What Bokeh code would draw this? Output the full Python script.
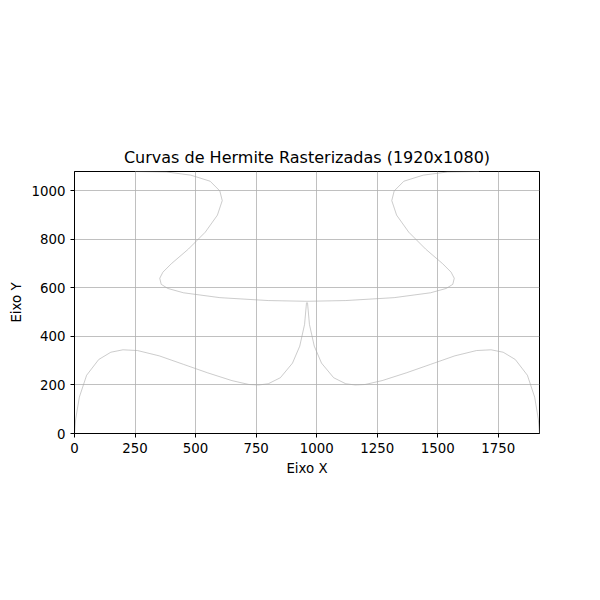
from bokeh.plotting import figure
from bokeh.models import FixedTicker, Range1d
from bokeh.embed import file_html
from bokeh.resources import INLINE

# upper curve (left half, then right half)
up_l_x = [250, 380, 480, 560, 600, 610, 590, 540, 470, 400, 365, 352, 358, 385, 450, 600, 800, 960]
up_l_y = [1080, 1078, 1065, 1040, 1000, 960, 900, 830, 760, 700, 665, 640, 615, 598, 580, 560, 548, 545]
up_r_x = [960, 1120, 1320, 1470, 1535, 1562, 1568, 1555, 1520, 1450, 1380, 1330, 1310, 1320, 1360, 1440, 1540, 1670]
up_r_y = [545, 548, 560, 580, 598, 615, 640, 665, 700, 760, 830, 900, 960, 1000, 1040, 1065, 1078, 1080]

# lower curve
lo_l_x = [0, 5, 20, 50, 100, 150, 200, 260, 350, 450, 550, 650, 720, 760, 800, 850, 900, 930, 950, 958]
lo_l_y = [0, 60, 150, 240, 305, 335, 345, 342, 320, 285, 250, 218, 202, 200, 205, 230, 290, 360, 450, 540]
lo_r_x = [962, 970, 990, 1020, 1070, 1120, 1160, 1200, 1270, 1370, 1470, 1570, 1660, 1720, 1770, 1820, 1870, 1900, 1915, 1920]
lo_r_y = [540, 450, 360, 290, 230, 205, 200, 202, 218, 250, 285, 320, 342, 345, 335, 305, 240, 150, 60, 0]

p = figure(width=584, height=584, output_backend="svg", toolbar_location=None,
           title="Curvas de Hermite Rasterizadas (1920x1080)",
           x_range=Range1d(0, 1920), y_range=Range1d(0, 1080),
           min_border_left=74, min_border_right=45, min_border_top=171, min_border_bottom=151)
p.title.align = "center"
p.title.text_font = "DejaVu Sans"
p.title.text_font_style = "normal"
p.title.text_font_size = "12pt"
p.title.text_color = "black"
p.outline_line_color = "black"
p.xaxis.axis_label = "Eixo X"
p.yaxis.axis_label = "Eixo Y"
for ax in (p.xaxis, p.yaxis):
    ax.axis_label_text_font = "DejaVu Sans"
    ax.axis_label_text_font_style = "normal"
    ax.axis_label_text_font_size = "10pt"
    ax.axis_label_text_color = "black"
    ax.major_label_text_font = "DejaVu Sans"
    ax.major_label_text_font_size = "10pt"
    ax.major_label_text_color = "black"
    ax.axis_line_color = "black"
    ax.major_tick_line_color = "black"
    ax.minor_tick_line_color = None
    ax.major_tick_in = 0
    ax.major_tick_out = 4
p.xaxis.ticker = FixedTicker(ticks=[0, 250, 500, 750, 1000, 1250, 1500, 1750])
p.yaxis.ticker = FixedTicker(ticks=[0, 200, 400, 600, 800, 1000])
p.grid.grid_line_color = "#b0b0b0"
p.grid.grid_line_width = 0.8

for xs, ys in [(up_l_x, up_l_y), (up_r_x, up_r_y), (lo_l_x, lo_l_y), (lo_r_x, lo_r_y)]:
    p.line(xs, ys, line_color="#aaaaaa", line_width=0.6)

open("out.html", "w").write(file_html(p, INLINE))
